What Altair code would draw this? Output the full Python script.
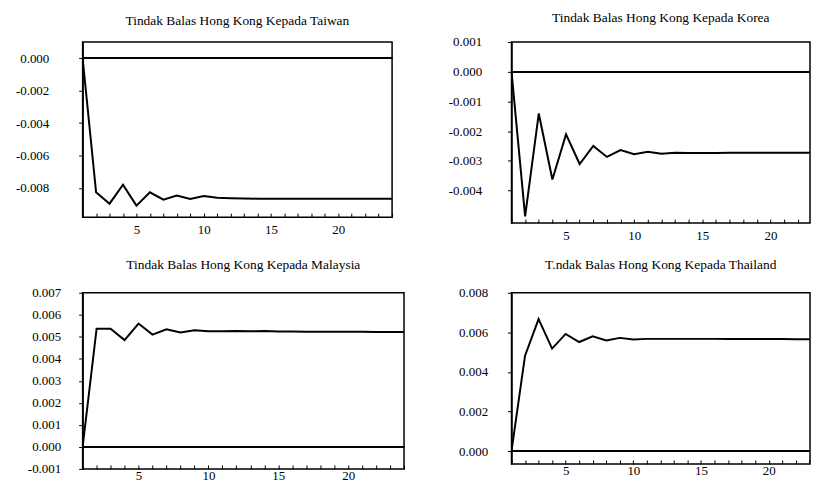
import altair as alt
import pandas as pd

FONT = "Liberation Serif, Times New Roman, Times, serif"

periods = list(range(1, 25))

taiwan = [0.0, -0.00827, -0.00897, -0.0078, -0.00909, -0.00827, -0.00872, -0.00847,
          -0.00868, -0.0085, -0.0086, -0.00863, -0.00865, -0.00866, -0.00866, -0.00866,
          -0.00866, -0.00866, -0.00867, -0.00867, -0.00867, -0.00867, -0.00867, -0.00867]
korea = [0.0, -0.00487, -0.00141, -0.00363, -0.00211, -0.00311, -0.0025, -0.00287,
         -0.00264, -0.00278, -0.0027, -0.00276, -0.00273, -0.00274, -0.00274, -0.00274,
         -0.00273, -0.00273, -0.00273, -0.00273, -0.00273, -0.00273, -0.00273, -0.00273]
malaysia = [0.0, 0.00537, 0.00537, 0.00485, 0.0056, 0.0051, 0.00534, 0.0052,
            0.0053, 0.00525, 0.00525, 0.00526, 0.00525, 0.00526, 0.00524, 0.00524,
            0.00523, 0.00523, 0.00523, 0.00523, 0.00523, 0.00522, 0.00522, 0.00522]
thailand = [0.0, 0.00482, 0.00667, 0.00518, 0.00592, 0.00551, 0.0058, 0.00559,
            0.00572, 0.00564, 0.00567, 0.00567, 0.00567, 0.00567, 0.00567, 0.00567,
            0.00566, 0.00566, 0.00566, 0.00566, 0.00566, 0.00565, 0.00565, 0.00565]

titles = [
    "Tindak Balas Hong Kong Kepada Taiwan",
    "Tindak Balas Hong Kong Kepada Korea",
    "Tindak Balas Hong Kong Kepada Malaysia",
    "T.ndak Balas Hong Kong Kepada Thailand",
]

taiwan_ticks = [0.0, -0.002, -0.004, -0.006, -0.008]
korea_ticks = [0.001, 0.0, -0.001, -0.002, -0.003, -0.004]
malaysia_ticks = [-0.001, 0.0, 0.001, 0.002, 0.003, 0.004, 0.005, 0.006, 0.007]
thailand_ticks = [0.0, 0.002, 0.004, 0.006, 0.008]

LABEL_EXPR = "replace(format(datum.value, '.3f'), '\u2212', '-')"


def panel(values, title, width, height, ydomain, yticks, xmax, ypad, toffset, xpad):
    df = pd.DataFrame({"period": periods, "value": values, "zero": [0.0] * len(periods)})
    xticks = [p for p in periods if p <= xmax]
    x = alt.X("period:Q",
              scale=alt.Scale(domain=[1, xmax], nice=False, zero=False),
              axis=alt.Axis(values=xticks, title=None, grid=False, domain=False,
                            offset=-4, tickSize=4, labelPadding=xpad,
                            labelExpr="datum.value % 5 == 0 ? datum.label : ''"))
    yscale = alt.Scale(domain=ydomain, nice=False, zero=False)
    yaxis = alt.Axis(values=yticks, title=None, grid=False, tickSize=4,
                     labelPadding=ypad, labelExpr=LABEL_EXPR)
    zero = alt.Chart(df).mark_rule(color="black", strokeWidth=1).encode(
        y=alt.Y("zero:Q", scale=yscale, axis=yaxis))
    line = alt.Chart(df).mark_line(color="black", strokeWidth=2, clip=True).encode(
        x=x, y=alt.Y("value:Q", scale=yscale, axis=yaxis))
    return alt.layer(zero, line).properties(
        width=width, height=height,
        title=alt.TitleParams(title, offset=toffset))


p1 = panel(taiwan, titles[0], 311, 176, [-0.0098, 0.001], taiwan_ticks, 24, 30, 15, 6)
p2 = panel(korea, titles[1], 300, 182, [-0.0051, 0.001], korea_ticks, 22.9, 26, 12, 6)
p3 = panel(malaysia, titles[2], 323, 177, [-0.001, 0.007], malaysia_ticks, 24, 18, 15, 1)
p4 = panel(thailand, titles[3], 300, 172, [-0.00065, 0.008], thailand_ticks, 23.05, 20, 15, 1)

chart = alt.concat(p1, p2, p3, p4, columns=2).properties(
    spacing={"row": 14, "column": 41},
    padding={"left": 6, "top": 0, "right": 0, "bottom": 0}
).configure_view(
    stroke="black", strokeWidth=1.5
).configure_axis(
    labelFont=FONT, labelFontSize=13, labelColor="black",
    domainColor="black", domainWidth=1.5, tickColor="black", tickWidth=1
).configure_title(
    font=FONT, fontSize=13.5, fontWeight="normal", color="black", anchor="middle"
)

chart.save("out.html", embed_options={"renderer": "svg", "actions": False})
